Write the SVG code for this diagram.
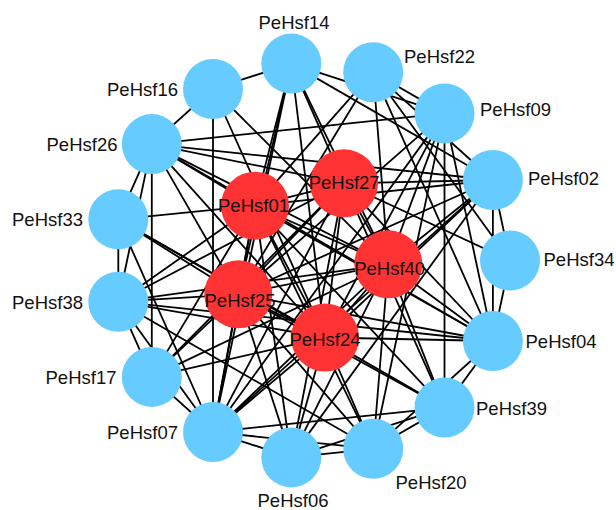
<svg xmlns="http://www.w3.org/2000/svg" width="616" height="510" viewBox="0 0 616 510">
<style>
.e line{stroke:#000;stroke-width:1.8}
.b{fill:#66CCFF}
.r{fill:#FF3333}
.t{font-family:"Liberation Sans",Arial,sans-serif;font-size:18.5px;fill:#111}
.s{text-anchor:start}.m{text-anchor:middle}.n{text-anchor:end}
</style>
<rect width="616" height="510" fill="#fff"/>
<g id="edges" class="e">
<line x1="213" y1="89" x2="291.3" y2="63.6"/>
<line x1="213" y1="89" x2="151.8" y2="144.1"/>
<line x1="213" y1="89" x2="213" y2="432"/>
<line x1="151.8" y1="144.1" x2="444.5" y2="113.4"/>
<line x1="151.8" y1="144.1" x2="492.9" y2="180"/>
<line x1="151.8" y1="144.1" x2="118.3" y2="219.3"/>
<line x1="151.8" y1="144.1" x2="151.8" y2="376.9"/>
<line x1="151.8" y1="144.1" x2="118.3" y2="301.7"/>
<line x1="118.3" y1="219.3" x2="118.3" y2="301.7"/>
<line x1="118.3" y1="301.7" x2="151.8" y2="376.9"/>
<line x1="118.3" y1="301.7" x2="213" y2="432"/>
<line x1="151.8" y1="376.9" x2="213" y2="432"/>
<line x1="213" y1="432" x2="291.3" y2="457.4"/>
<line x1="213" y1="432" x2="373.2" y2="448.8"/>
<line x1="213" y1="432" x2="444.5" y2="407.6"/>
<line x1="213" y1="432" x2="492.9" y2="180"/>
<line x1="213" y1="432" x2="291.3" y2="63.6"/>
<line x1="213" y1="432" x2="444.5" y2="113.4"/>
<line x1="291.3" y1="457.4" x2="373.2" y2="448.8"/>
<line x1="291.3" y1="457.4" x2="444.5" y2="407.6"/>
<line x1="373.2" y1="448.8" x2="444.5" y2="407.6"/>
<line x1="373.2" y1="448.8" x2="492.9" y2="341"/>
<line x1="444.5" y1="407.6" x2="492.9" y2="341"/>
<line x1="492.9" y1="341" x2="510" y2="260.5"/>
<line x1="492.9" y1="180" x2="510" y2="260.5"/>
<line x1="492.9" y1="180" x2="492.9" y2="341"/>
<line x1="291.3" y1="63.6" x2="444.5" y2="113.4"/>
<line x1="291.3" y1="63.6" x2="492.9" y2="180"/>
<line x1="373.2" y1="72.2" x2="444.5" y2="113.4"/>
<line x1="373.2" y1="72.2" x2="492.9" y2="341"/>
<line x1="373.2" y1="72.2" x2="492.9" y2="180"/>
<line x1="373.2" y1="72.2" x2="510" y2="260.5"/>
<line x1="444.5" y1="113.4" x2="444.5" y2="407.6"/>
<line x1="444.5" y1="113.4" x2="492.9" y2="341"/>
<line x1="444.5" y1="113.4" x2="373.2" y2="448.8"/>
<line x1="118.3" y1="219.3" x2="213" y2="432"/>
<line x1="118.3" y1="301.7" x2="492.9" y2="341"/>
<line x1="118.3" y1="301.7" x2="373.2" y2="448.8"/>
<line x1="151.8" y1="144.1" x2="492.9" y2="341"/>
<line x1="291.3" y1="457.4" x2="492.9" y2="180"/>
<line x1="118.3" y1="219.3" x2="444.5" y2="407.6"/>
<line x1="213" y1="89" x2="325" y2="337.5"/>
<line x1="213" y1="89" x2="388.3" y2="264.3"/>
<line x1="291.3" y1="63.6" x2="255" y2="205.7"/>
<line x1="291.3" y1="63.6" x2="238.3" y2="294.3"/>
<line x1="291.3" y1="63.6" x2="325" y2="337.5"/>
<line x1="291.3" y1="63.6" x2="344" y2="183.3"/>
<line x1="291.3" y1="63.6" x2="388.3" y2="264.3"/>
<line x1="373.2" y1="72.2" x2="255" y2="205.7"/>
<line x1="373.2" y1="72.2" x2="388.3" y2="264.3"/>
<line x1="373.2" y1="72.2" x2="238.3" y2="294.3"/>
<line x1="444.5" y1="113.4" x2="325" y2="337.5"/>
<line x1="444.5" y1="113.4" x2="388.3" y2="264.3"/>
<line x1="444.5" y1="113.4" x2="238.3" y2="294.3"/>
<line x1="492.9" y1="180" x2="344" y2="183.3"/>
<line x1="492.9" y1="180" x2="255" y2="205.7"/>
<line x1="492.9" y1="180" x2="388.3" y2="264.3"/>
<line x1="492.9" y1="180" x2="325" y2="337.5"/>
<line x1="492.9" y1="180" x2="238.3" y2="294.3"/>
<line x1="510" y1="260.5" x2="344" y2="183.3"/>
<line x1="492.9" y1="341" x2="344" y2="183.3"/>
<line x1="492.9" y1="341" x2="388.3" y2="264.3"/>
<line x1="492.9" y1="341" x2="255" y2="205.7"/>
<line x1="492.9" y1="341" x2="325" y2="337.5"/>
<line x1="492.9" y1="341" x2="238.3" y2="294.3"/>
<line x1="444.5" y1="407.6" x2="344" y2="183.3"/>
<line x1="444.5" y1="407.6" x2="255" y2="205.7"/>
<line x1="444.5" y1="407.6" x2="388.3" y2="264.3"/>
<line x1="444.5" y1="407.6" x2="238.3" y2="294.3"/>
<line x1="373.2" y1="448.8" x2="388.3" y2="264.3"/>
<line x1="373.2" y1="448.8" x2="325" y2="337.5"/>
<line x1="373.2" y1="448.8" x2="255" y2="205.7"/>
<line x1="373.2" y1="448.8" x2="238.3" y2="294.3"/>
<line x1="291.3" y1="457.4" x2="238.3" y2="294.3"/>
<line x1="291.3" y1="457.4" x2="255" y2="205.7"/>
<line x1="291.3" y1="457.4" x2="325" y2="337.5"/>
<line x1="291.3" y1="457.4" x2="344" y2="183.3"/>
<line x1="291.3" y1="457.4" x2="388.3" y2="264.3"/>
<line x1="213" y1="432" x2="255" y2="205.7"/>
<line x1="213" y1="432" x2="238.3" y2="294.3"/>
<line x1="213" y1="432" x2="325" y2="337.5"/>
<line x1="213" y1="432" x2="388.3" y2="264.3"/>
<line x1="213" y1="432" x2="344" y2="183.3"/>
<line x1="151.8" y1="376.9" x2="238.3" y2="294.3"/>
<line x1="151.8" y1="376.9" x2="255" y2="205.7"/>
<line x1="151.8" y1="376.9" x2="344" y2="183.3"/>
<line x1="151.8" y1="376.9" x2="325" y2="337.5"/>
<line x1="151.8" y1="376.9" x2="388.3" y2="264.3"/>
<line x1="118.3" y1="301.7" x2="238.3" y2="294.3"/>
<line x1="118.3" y1="301.7" x2="388.3" y2="264.3"/>
<line x1="118.3" y1="301.7" x2="325" y2="337.5"/>
<line x1="118.3" y1="301.7" x2="344" y2="183.3"/>
<line x1="118.3" y1="301.7" x2="255" y2="205.7"/>
<line x1="118.3" y1="219.3" x2="255" y2="205.7"/>
<line x1="118.3" y1="219.3" x2="238.3" y2="294.3"/>
<line x1="118.3" y1="219.3" x2="325" y2="337.5"/>
<line x1="151.8" y1="144.1" x2="344" y2="183.3"/>
<line x1="151.8" y1="144.1" x2="388.3" y2="264.3"/>
<line x1="151.8" y1="144.1" x2="255" y2="205.7"/>
<line x1="151.8" y1="144.1" x2="325" y2="337.5"/>
<line x1="151.8" y1="144.1" x2="238.3" y2="294.3"/>
<line x1="255" y1="205.7" x2="344" y2="183.3"/>
<line x1="255" y1="205.7" x2="388.3" y2="264.3"/>
<line x1="255" y1="205.7" x2="238.3" y2="294.3"/>
<line x1="255" y1="205.7" x2="325" y2="337.5"/>
<line x1="344" y1="183.3" x2="388.3" y2="264.3"/>
<line x1="344" y1="183.3" x2="238.3" y2="294.3"/>
<line x1="344" y1="183.3" x2="325" y2="337.5"/>
<line x1="388.3" y1="264.3" x2="238.3" y2="294.3"/>
<line x1="388.3" y1="264.3" x2="325" y2="337.5"/>
<line x1="238.3" y1="294.3" x2="325" y2="337.5"/>
</g>
<g id="PeHsf14"><circle class="b" cx="291.3" cy="63.6" r="30"/><text class="t m" x="294" y="29">PeHsf14</text></g>
<g id="PeHsf22"><circle class="b" cx="373.2" cy="72.2" r="30"/><text class="t s" x="404" y="62.5">PeHsf22</text></g>
<g id="PeHsf09"><circle class="b" cx="444.5" cy="113.4" r="30"/><text class="t s" x="480" y="116">PeHsf09</text></g>
<g id="PeHsf02"><circle class="b" cx="492.9" cy="180" r="30"/><text class="t s" x="528" y="185">PeHsf02</text></g>
<g id="PeHsf34"><circle class="b" cx="510" cy="260.5" r="30"/><text class="t s" x="543.5" y="266">PeHsf34</text></g>
<g id="PeHsf04"><circle class="b" cx="492.9" cy="341" r="30"/><text class="t s" x="525.5" y="348">PeHsf04</text></g>
<g id="PeHsf39"><circle class="b" cx="444.5" cy="407.6" r="30"/><text class="t s" x="476" y="415">PeHsf39</text></g>
<g id="PeHsf20"><circle class="b" cx="373.2" cy="448.8" r="30"/><text class="t s" x="395.5" y="488.5">PeHsf20</text></g>
<g id="PeHsf06"><circle class="b" cx="291.3" cy="457.4" r="30"/><text class="t m" x="293" y="507">PeHsf06</text></g>
<g id="PeHsf07"><circle class="b" cx="213" cy="432" r="30"/><text class="t n" x="178" y="439">PeHsf07</text></g>
<g id="PeHsf17"><circle class="b" cx="151.8" cy="376.9" r="30"/><text class="t n" x="116.5" y="384">PeHsf17</text></g>
<g id="PeHsf38"><circle class="b" cx="118.3" cy="301.7" r="30"/><text class="t n" x="83" y="308.5">PeHsf38</text></g>
<g id="PeHsf33"><circle class="b" cx="118.3" cy="219.3" r="30"/><text class="t n" x="83" y="226">PeHsf33</text></g>
<g id="PeHsf26"><circle class="b" cx="151.8" cy="144.1" r="30"/><text class="t n" x="117.5" y="151">PeHsf26</text></g>
<g id="PeHsf16"><circle class="b" cx="213" cy="89" r="30"/><text class="t n" x="178" y="96">PeHsf16</text></g>
<g id="PeHsf01"><circle class="r" cx="255" cy="205.7" r="34"/><text class="t m" x="253.5" y="211.5">PeHsf01</text></g>
<g id="PeHsf27"><circle class="r" cx="344" cy="183.3" r="34"/><text class="t m" x="344.2" y="189.3">PeHsf27</text></g>
<g id="PeHsf40"><circle class="r" cx="388.3" cy="264.3" r="34"/><text class="t m" x="389.7" y="275">PeHsf40</text></g>
<g id="PeHsf25"><circle class="r" cx="238.3" cy="294.3" r="34"/><text class="t m" x="240" y="306.5">PeHsf25</text></g>
<g id="PeHsf24"><circle class="r" cx="325" cy="337.5" r="34"/><text class="t m" x="325" y="346">PeHsf24</text></g>
</svg>
